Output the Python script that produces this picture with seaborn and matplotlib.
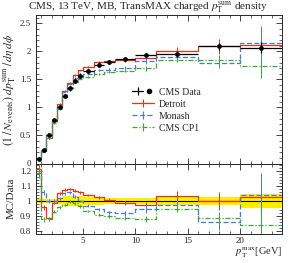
import numpy as np
import pandas as pd
import matplotlib
matplotlib.use('Agg')
import matplotlib.pyplot as plt
import seaborn as sns
from matplotlib.lines import Line2D
from matplotlib.legend_handler import HandlerTuple
from matplotlib.ticker import MultipleLocator, FuncFormatter

# bins in pT max [GeV]
bin_edges = [0.5, 1, 1.5, 2, 2.5, 3, 3.5, 4, 4.5, 5, 6, 7, 8, 10, 12, 16, 20, 24]

# CMS data and relative uncertainty (yellow band)
data_vals = [0.08, 0.24, 0.51, 0.77, 1.01, 1.21, 1.34, 1.48, 1.57, 1.65, 1.76, 1.81, 1.86, 1.93, 1.95, 2.09, 2.07]
data_rel_err = [0.015, 0.015, 0.015, 0.015, 0.02, 0.03, 0.03, 0.03, 0.03, 0.025, 0.025, 0.02, 0.02, 0.02, 0.028, 0.028, 0.048]

# MC predictions
detroit_vals = [0.097, 0.230, 0.452, 0.762, 1.061, 1.301, 1.445, 1.581, 1.661, 1.716, 1.804, 1.828, 1.841, 1.882, 2.009, 2.090, 2.122]
detroit_err = [0.003, 0.004, 0.006, 0.008, 0.010, 0.010, 0.012, 0.012, 0.014, 0.015, 0.020, 0.022, 0.025, 0.030, 0.070, 0.130, 0.150]
monash_vals = [0.095, 0.254, 0.510, 0.770, 1.030, 1.271, 1.418, 1.524, 1.570, 1.601, 1.663, 1.674, 1.711, 1.834, 1.901, 1.797, 2.153]
monash_err = [0.003, 0.004, 0.006, 0.008, 0.010, 0.010, 0.012, 0.012, 0.014, 0.015, 0.020, 0.022, 0.030, 0.050, 0.060, 0.100, 0.300]
cp1_vals = [0.096, 0.211, 0.449, 0.716, 0.970, 1.180, 1.333, 1.458, 1.515, 1.543, 1.602, 1.629, 1.655, 1.698, 1.853, 1.850, 1.739]
cp1_err = [0.003, 0.004, 0.006, 0.008, 0.010, 0.010, 0.012, 0.012, 0.014, 0.015, 0.020, 0.022, 0.025, 0.040, 0.050, 0.090, 0.220]

edges = np.array(bin_edges)
centers = 0.5 * (edges[:-1] + edges[1:])
halfw = 0.5 * np.diff(edges)
data = np.array(data_vals)
data_err = data * np.array(data_rel_err)

mc_sets = [
    ("Detroit", np.array(detroit_vals), np.array(detroit_err), "#ee3311", "-"),
    ("Monash", np.array(monash_vals), np.array(monash_err), "#4477ee", (0, (4, 2))),
    ("CMS CP1", np.array(cp1_vals), np.array(cp1_err), "#33aa33", (0, (4, 1.5, 1, 1.5))),
]

sns.set_style("ticks")
plt.rcParams['font.family'] = ['Liberation Serif', 'DejaVu Serif']
plt.rcParams['mathtext.fontset'] = 'stix'
plt.rcParams.update({
    'xtick.direction': 'in', 'ytick.direction': 'in',
    'xtick.top': True, 'ytick.right': True,
    'xtick.major.size': 4.5, 'ytick.major.size': 4.5,
    'xtick.minor.size': 2.3, 'ytick.minor.size': 2.3,
    'xtick.major.width': 0.6, 'ytick.major.width': 0.6,
    'xtick.minor.width': 0.5, 'ytick.minor.width': 0.5,
    'axes.linewidth': 0.7,
    'xtick.labelsize': 6.5, 'ytick.labelsize': 6.5,
    'legend.numpoints': 1,
})

W, H = 291, 263
fig = plt.figure(figsize=(W / 100, H / 100), dpi=100)
x0, x1 = 36 / W, 282 / W
y_top, y_mid, y_bot = 15, 163.5, 234
ax = fig.add_axes([x0, 1 - y_mid / H, x1 - x0, (y_mid - y_top) / H])
rax = fig.add_axes([x0, 1 - y_bot / H, x1 - x0, (y_bot - y_mid) / H], sharex=ax)


def step_frame(vals):
    return pd.DataFrame({"x": edges, "y": np.append(vals, vals[-1])})


# main panel
for name, vals, err, col, ls in mc_sets:
    sns.lineplot(data=step_frame(vals), x="x", y="y", drawstyle="steps-post",
                 color=col, linestyle=ls, lw=0.9, ax=ax, estimator=None)
    ax.errorbar(centers, vals, yerr=err, fmt="none", ecolor=col, elinewidth=0.7)

ax.errorbar(centers, data, xerr=halfw, yerr=data_err, fmt="o", color="black",
            ms=2.4, elinewidth=0.9, capsize=0, zorder=5)

ax.set_xlim(0.5, 24)
ax.set_ylim(0, 2.65)
ax.yaxis.set_major_locator(MultipleLocator(0.5))
ax.yaxis.set_minor_locator(MultipleLocator(0.1))
ax.xaxis.set_major_locator(MultipleLocator(5))
ax.xaxis.set_minor_locator(MultipleLocator(1))
ax.tick_params(axis="x", which="both", labelbottom=False)
ax.yaxis.set_major_formatter(FuncFormatter(lambda v, p: f"{v:g}"))
ax.set_xlabel("")
ax.set_ylabel(r"$(1\,/\,N_\mathrm{events})\ dp_\mathrm{T}^\mathrm{sum}\,/\,d\eta\,d\phi$",
              fontsize=8.5, labelpad=2)

# legend
handles = [(Line2D([], [], color="black", lw=0.9, marker="|", ms=6, mew=0.9),
            Line2D([], [], color="black", marker="o", ms=3, ls="none"))]
for name, vals, err, col, ls in mc_sets:
    handles.append(Line2D([], [], color=col, lw=0.9, linestyle=ls,
                          marker="|", ms=6, mew=0.8))
labels = ["CMS Data"] + [m[0] for m in mc_sets]
ax.legend(handles, labels, handler_map={tuple: HandlerTuple(ndivide=None)},
          loc="upper left", bbox_to_anchor=(0.39, 0.51), frameon=False,
          fontsize=7, handlelength=2.3, handletextpad=0.5, labelspacing=0.3,
          borderpad=0, borderaxespad=0)

# ratio panel
band_lo = np.append(1 - np.array(data_rel_err), 1 - data_rel_err[-1])
band_hi = np.append(1 + np.array(data_rel_err), 1 + data_rel_err[-1])
rax.fill_between(edges, band_lo, band_hi, step="post", color="#ffee00", lw=0, zorder=1)
rax.axhline(1, color="black", lw=0.8, zorder=2)
for name, vals, err, col, ls in mc_sets:
    sns.lineplot(data=step_frame(vals / data), x="x", y="y", drawstyle="steps-post",
                 color=col, linestyle=ls, lw=0.9, ax=rax, estimator=None, zorder=3)
    rax.errorbar(centers, vals / data, yerr=err / data, fmt="none", ecolor=col,
                 elinewidth=0.7, zorder=3)

rax.set_xlim(0.5, 24)
rax.set_ylim(0.783, 1.247)
rax.yaxis.set_major_locator(MultipleLocator(0.1))
rax.yaxis.set_minor_locator(MultipleLocator(0.02))
rax.yaxis.set_major_formatter(FuncFormatter(lambda v, p: f"{v:g}" if v < 1.22 else ""))
rax.xaxis.set_major_locator(MultipleLocator(5))
rax.xaxis.set_minor_locator(MultipleLocator(1))
rax.set_ylabel("MC/Data", fontsize=8, labelpad=3)
rax.set_xlabel(r"$p_\mathrm{T}^\mathrm{max}$[GeV]", fontsize=7.5, labelpad=1)
rax.xaxis.set_label_coords(1.0, -0.165)
rax.xaxis.label.set_ha("right")
rax.tick_params(axis="x", pad=2)

fig.text(148 / W, 1 - 7 / H, r"CMS, 13 TeV, MB, TransMAX charged $p_\mathrm{T}^\mathrm{sum}$ density",
         ha="center", va="center", fontsize=8)

fig.savefig("out.png", dpi=100)
